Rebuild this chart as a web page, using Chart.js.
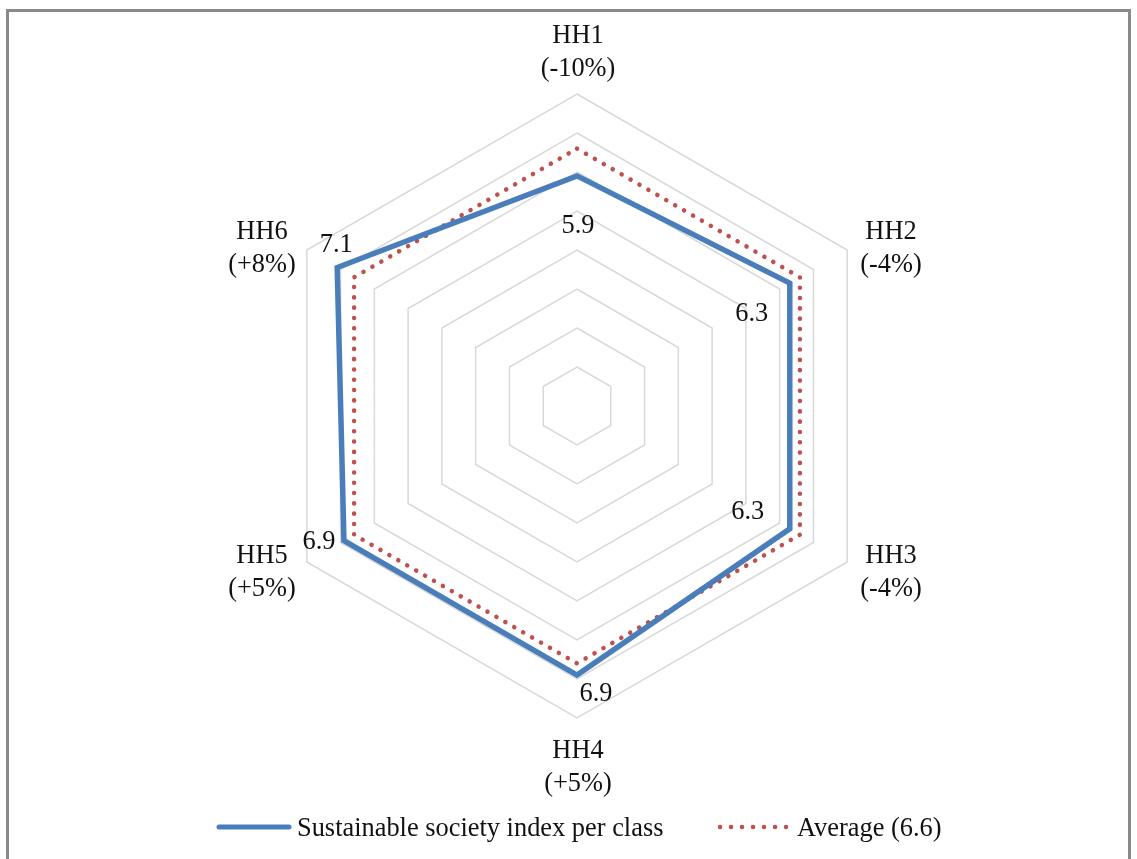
<!DOCTYPE html>
<html>
<head>
<meta charset="utf-8">
<script src="https://cdn.jsdelivr.net/npm/chart.js@4/dist/chart.umd.min.js"></script>
<style>
  html, body { margin: 0; padding: 0; background: #fff; }
  #wrap { width: 1137px; height: 859px; position: relative; }
  canvas { display: block; }
</style>
</head>
<body>
<div id="wrap"><canvas id="chart" width="1137" height="859"></canvas></div>
<script>
// ---- data ----
const categories = ['HH1', 'HH2', 'HH3', 'HH4', 'HH5', 'HH6'];
const changeLabels = ['(-10%)', '(-4%)', '(-4%)', '(+5%)', '(+5%)', '(+8%)'];
const indexValues = [5.9, 6.3, 6.3, 6.9, 6.9, 7.1];
const averageValues = [6.6, 6.6, 6.6, 6.6, 6.6, 6.6];
const seriesNames = ['Sustainable society index per class', 'Average (6.6)'];
const scaleMin = 0;
const scaleMax = 8;
const scaleStep = 1;

// ---- styles ----
const FONT = '26.4px "Liberation Serif", "Times New Roman", serif';
const BLUE = '#4a7ebb';
const RED = '#c0504d';
const GRID = '#d9d9d9';
const TEXT = '#111';

// category label anchors (first-line baseline), relative to the scale centre
const categoryLabelOffsets = [[1, -363], [314, -167], [314, 157], [1, 352], [-315, 157], [-315, -167]];
const categoryLineGap = 33;
// value label centres, relative to each point
const valueLabelOffsets = [[1, 48], [-38, 29], [-42, -19], [19, 17], [-25, -1], [-1, -25]];

const frameAndText = {
  id: 'frameAndText',
  beforeDraw(chart) {
    const ctx = chart.ctx;
    ctx.save();
    ctx.fillStyle = '#fff';
    ctx.fillRect(0, 0, chart.width, chart.height);
    ctx.strokeStyle = '#8a8a8a';
    ctx.lineWidth = 3;
    ctx.strokeRect(7.5, 10.5, 1122, 900);
    ctx.restore();
  },
  afterDraw(chart) {
    const ctx = chart.ctx;
    const scale = chart.scales.r;
    const cx = scale.xCenter, cy = scale.yCenter;
    ctx.save();
    ctx.font = FONT;
    ctx.fillStyle = TEXT;
    ctx.textAlign = 'center';
    ctx.textBaseline = 'alphabetic';

    // category labels
    categories.forEach((name, i) => {
      const [dx, dy] = categoryLabelOffsets[i];
      ctx.fillText(name, cx + dx, cy + dy);
      ctx.fillText(changeLabels[i], cx + dx, cy + dy + categoryLineGap);
    });

    // value labels for the index series
    const meta = chart.getDatasetMeta(0);
    meta.data.forEach((pt, i) => {
      const [dx, dy] = valueLabelOffsets[i];
      ctx.fillText(indexValues[i].toFixed(1), pt.x + dx, pt.y + dy + 9);
    });

    // legend
    const ly = 827;
    ctx.lineCap = 'round';
    ctx.strokeStyle = BLUE;
    ctx.lineWidth = 5;
    ctx.beginPath();
    ctx.moveTo(219, ly);
    ctx.lineTo(289, ly);
    ctx.stroke();
    ctx.strokeStyle = RED;
    ctx.lineWidth = 4.5;
    ctx.setLineDash([0.1, 10.9]);
    ctx.beginPath();
    ctx.moveTo(720, ly);
    ctx.lineTo(786, ly);
    ctx.stroke();
    ctx.setLineDash([]);
    ctx.textAlign = 'left';
    ctx.fillText(seriesNames[0], 297, ly + 9);
    ctx.fillText(seriesNames[1], 797, ly + 9);
    ctx.restore();
  }
};

new Chart(document.getElementById('chart'), {
  type: 'radar',
  data: {
    labels: categories,
    datasets: [
      {
        label: seriesNames[0],
        data: indexValues,
        borderColor: BLUE,
        borderWidth: 5.5,
        borderJoinStyle: 'miter',
        fill: false,
        pointRadius: 0,
        pointHoverRadius: 0,
        tension: 0
      },
      {
        label: seriesNames[1],
        data: averageValues,
        borderColor: RED,
        borderWidth: 4.5,
        borderCapStyle: 'round',
        borderDash: [0.1, 10.2],
        fill: false,
        pointRadius: 0,
        pointHoverRadius: 0,
        tension: 0
      }
    ]
  },
  options: {
    responsive: false,
    animation: false,
    devicePixelRatio: 1,
    layout: { padding: { left: 265, right: 247, top: 94, bottom: 140 } },
    plugins: {
      legend: { display: false },
      tooltip: { enabled: false }
    },
    scales: {
      r: {
        min: scaleMin,
        max: scaleMax,
        ticks: { display: false, stepSize: scaleStep },
        pointLabels: { display: false },
        angleLines: { display: false },
        grid: { color: GRID, lineWidth: 1.5 }
      }
    }
  },
  plugins: [frameAndText]
});
</script>
</body>
</html>
